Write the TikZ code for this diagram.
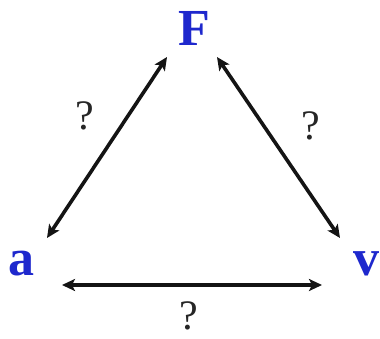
\documentclass[tikz,border=0pt]{standalone}
\usepackage{fontspec}
\setmainfont{Liberation Serif}
\usetikzlibrary{arrows.meta}
\definecolor{letterblue}{RGB}{30,40,205}
\tikzset{
  qty/.style={text=letterblue, font=\fontsize{52}{52}\selectfont\bfseries, inner sep=0pt, anchor=center},
  qmark/.style={font=\fontsize{42}{42}\selectfont, inner sep=0pt, anchor=center, text=black!85},
  link/.style={line width=3.6pt, black!92, {Stealth[length=13pt,width=12pt,inset=3pt]}-{Stealth[length=13pt,width=12pt,inset=3pt]}}
}
\begin{document}
\begin{tikzpicture}[x=1pt,y=-1pt]
\useasboundingbox (0,0) rectangle (380,338);
\node[qty] (F) at (194,28.5) {F};
\node[qty] (a) at (21.5,263.5) {a};
\node[qty] (v) at (366,263.5) {v};
\coordinate (aF1) at (47,238);
\coordinate (aF2) at (167,57);
\coordinate (Fv1) at (217,57);
\coordinate (Fv2) at (340,238);
\coordinate (av1) at (62,285);
\coordinate (av2) at (322,285);
\draw[link] (aF1) -- (aF2);
\draw[link] (Fv1) -- (Fv2);
\draw[link] (av1) -- (av2);
\node[qmark] (q1) at (85,116) {?};
\node[qmark] (q2) at (311,126) {?};
\node[qmark] (q3) at (189,316) {?};
\end{tikzpicture}
\end{document}
